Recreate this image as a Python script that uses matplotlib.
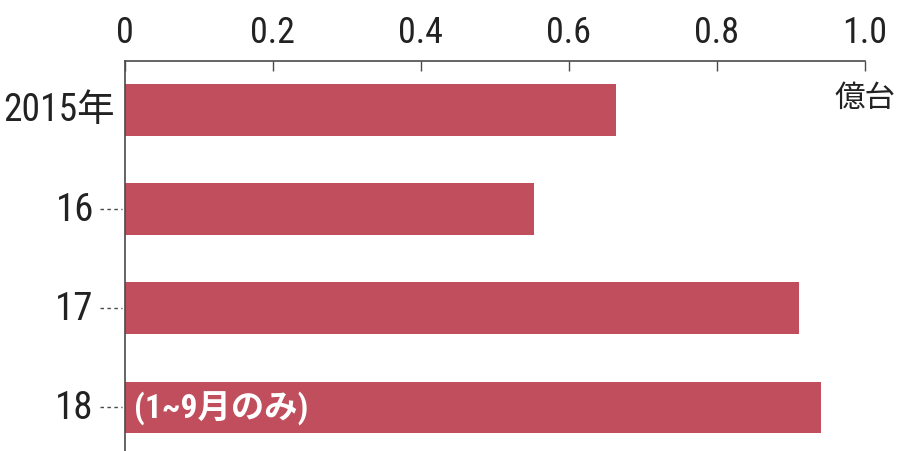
import matplotlib.pyplot as plt
import matplotlib.transforms as mtransforms

# shipments per year, in units of 100 million
years = ['2015年', '16', '17', '18']
units = [0.664, 0.553, 0.911, 0.941]
xticks = [0, 0.2, 0.4, 0.6, 0.8, 1.0]
xtick_labels = ['0', '0.2', '0.4', '0.6', '0.8', '1.0']
note = '(1~9月のみ)'
unit_label = '億台'

fonts = ['Roboto Condensed', 'Noto Sans CJK JP', 'DejaVu Sans']
plt.rcParams['font.family'] = fonts

bar_color = '#c14e5c'
axis_color = '#4a4a4a'
text_color = '#222222'

fig = plt.figure(figsize=(8.99, 4.52), dpi=100)
ax = fig.add_axes([0.139, 0.0, 0.823, 0.863])

pos = list(range(len(years)))
ax.barh(pos, units, height=0.52, color=bar_color, zorder=2)

ax.set_xlim(0, 1.0)
ax.set_ylim(3.44, -0.495)

# axis on top, ticks pointing into the plot
ax.xaxis.tick_top()
ax.set_xticks(xticks)
ax.set_xticklabels(xtick_labels, fontsize=26, color=text_color)
ax.tick_params(axis='x', direction='in', length=7, width=1, color=axis_color, pad=8)
ax.set_yticks([])

for s in ['right', 'bottom']:
    ax.spines[s].set_visible(False)
for s in ['top', 'left']:
    ax.spines[s].set_color(axis_color)
    ax.spines[s].set_linewidth(1.2)

# year labels; the first one sits close to the axis, the rest get dotted leaders
trans = mtransforms.blended_transform_factory(ax.transAxes, ax.transData)
for i, lab in zip(pos, years):
    if i == 0:
        ax.text(-0.013, i, lab, transform=trans, ha='right', va='center',
                fontsize=27, color=text_color)
    else:
        ax.text(-0.042, i, lab, transform=trans, ha='right', va='center',
                fontsize=28, color=text_color)
        ax.plot([-0.034, -0.004], [i, i], transform=trans, color=axis_color,
                lw=1, linestyle=(0, (2.5, 2.5)), clip_on=False)

ax.text(1.0, -0.13, unit_label, transform=trans, ha='center', va='center',
        fontsize=22, color=text_color)

ax.text(0.012, 3, note, ha='left', va='center', fontsize=24, color='white',
        fontweight='bold', zorder=3)

fig.savefig('out.png', dpi=100, facecolor='white')
